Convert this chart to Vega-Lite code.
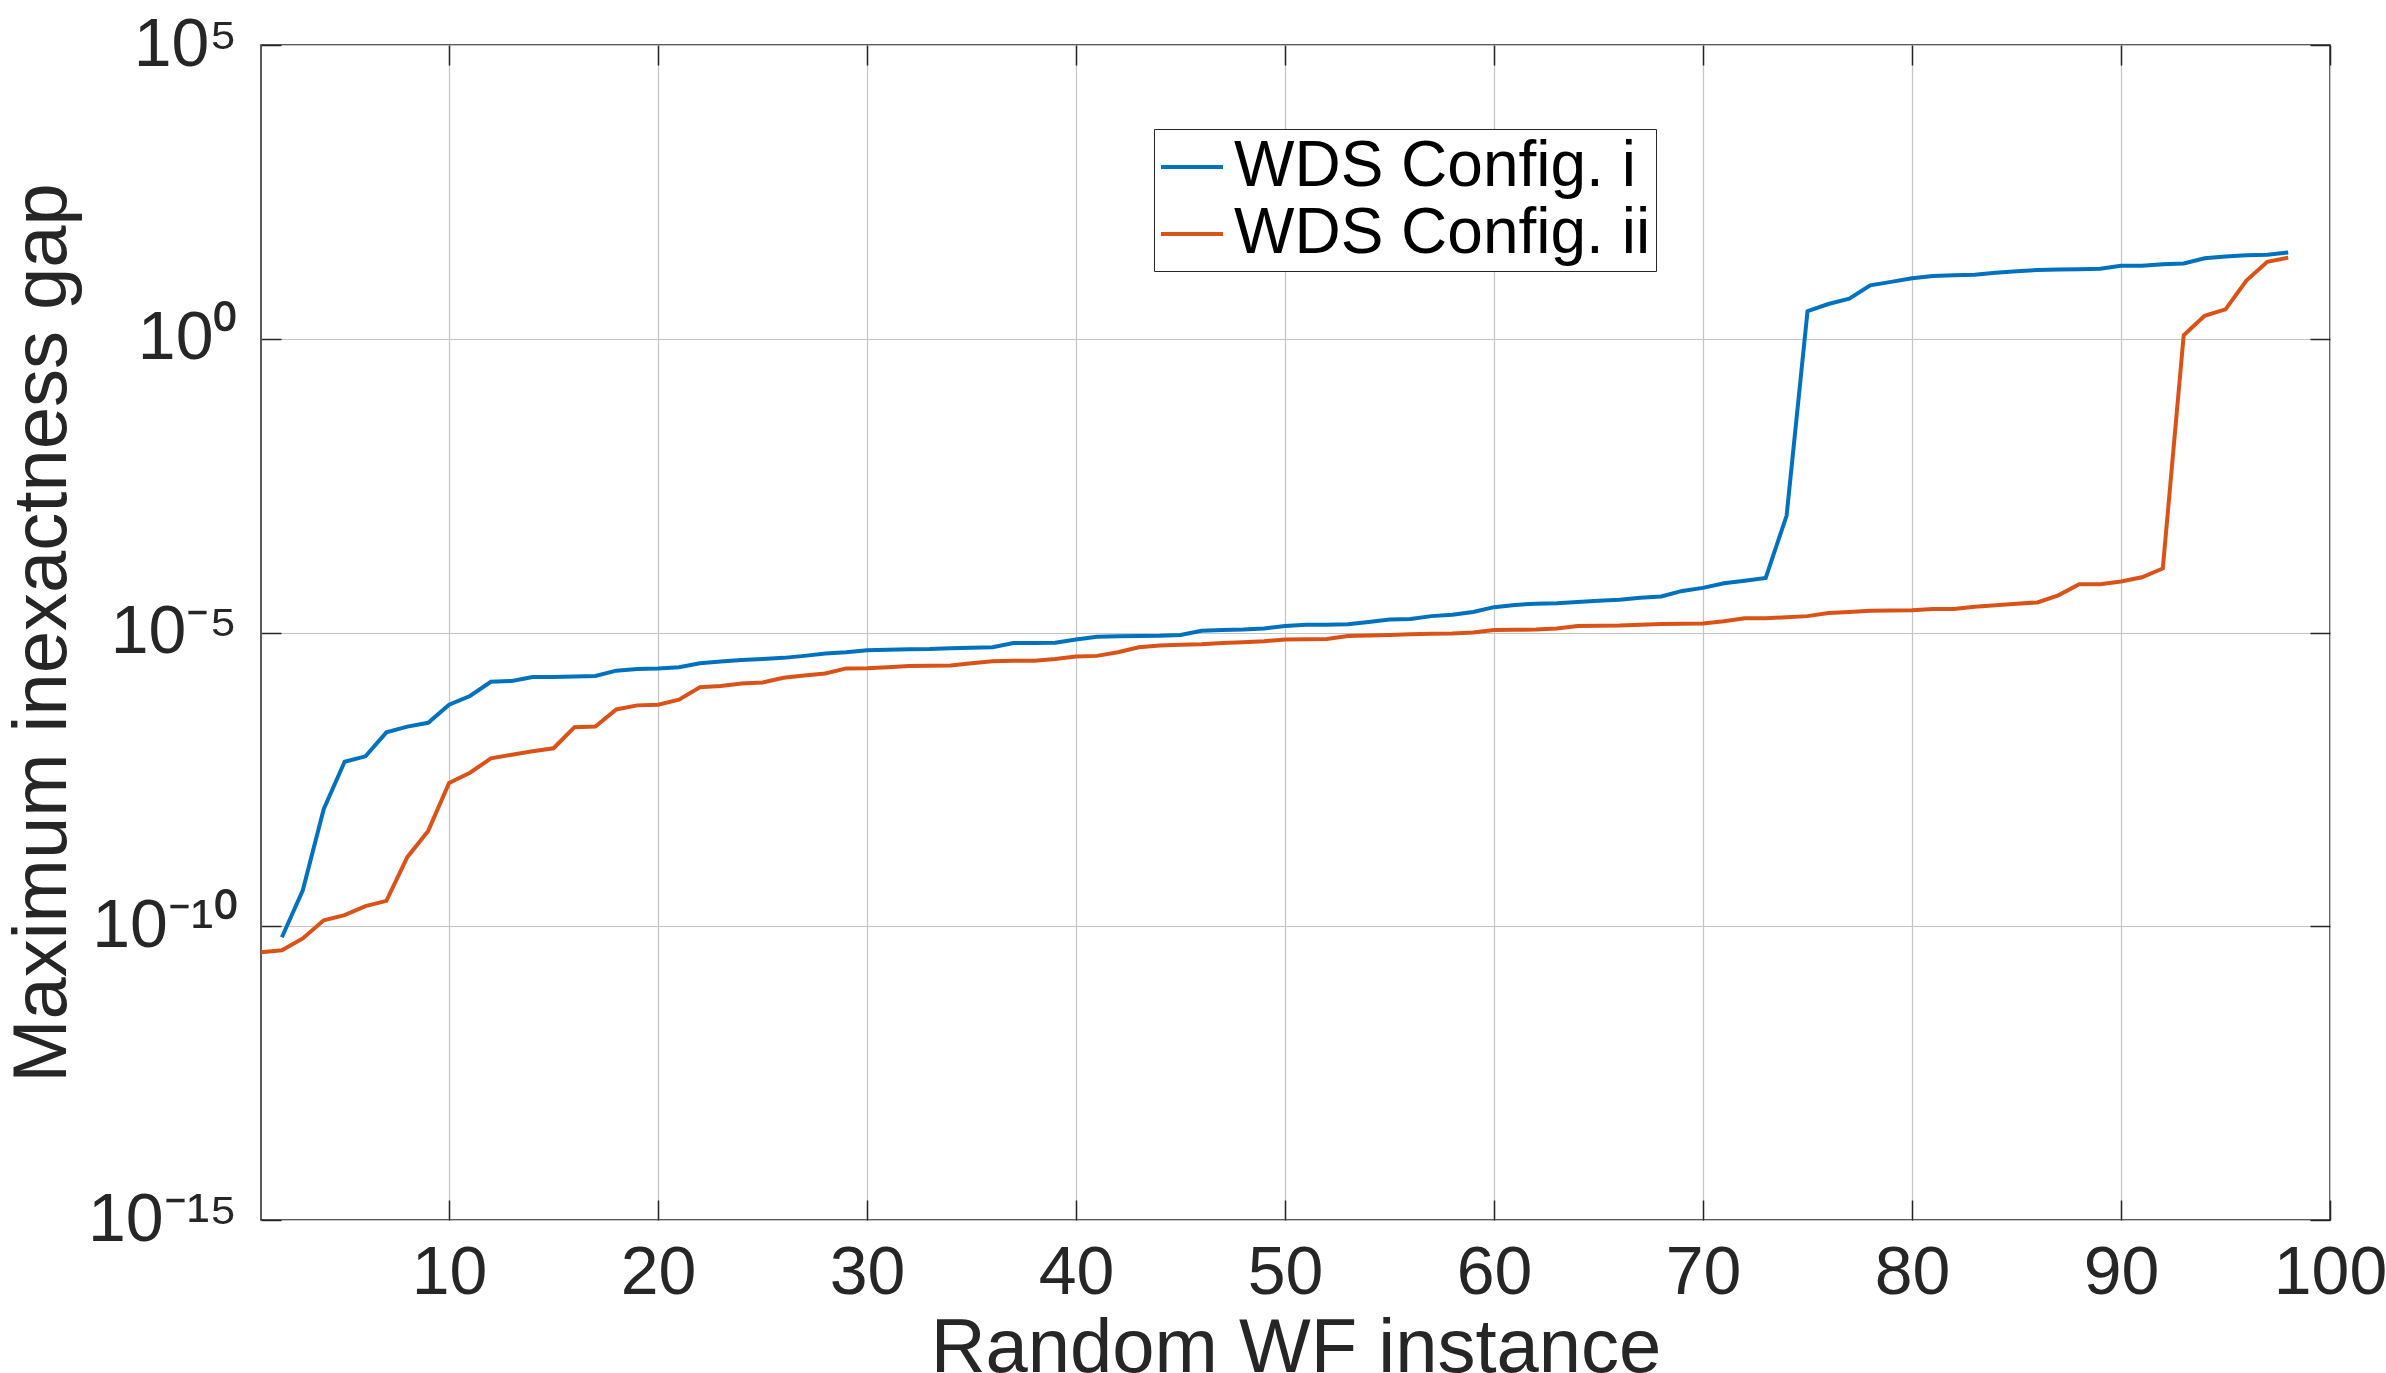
{
  "$schema": "https://vega.github.io/schema/vega-lite/v6.json",
  "width": 2069,
  "height": 1175,
  "autosize": {"type": "none"},
  "padding": {"left": 261, "top": 45, "right": 56, "bottom": 153},
  "background": "white",
  "config": {
    "view": {"stroke": "#262626", "strokeWidth": 1.5},
    "axis": {
      "domain": false,
      "tickColor": "#262626",
      "tickWidth": 1.5,
      "tickSize": -20,
      "gridColor": "#c4c4c4",
      "gridWidth": 1.2,
      "labelFont": "Liberation Sans",
      "labelColor": "#262626",
      "titleFont": "Liberation Sans",
      "titleColor": "#262626",
      "titleFontWeight": "normal",
      "titleFontSize": 76,
      "labelFlush": false,
      "labelOverlap": false,
      "labelBound": false
    }
  },
  "data": {
    "values": [
      {"instance": 2, "config": "WDS Config. i", "gap": 6.5e-11},
      {"instance": 3, "config": "WDS Config. i", "gap": 4.1e-10},
      {"instance": 4, "config": "WDS Config. i", "gap": 9.8e-9},
      {"instance": 5, "config": "WDS Config. i", "gap": 6.3e-8},
      {"instance": 6, "config": "WDS Config. i", "gap": 7.8e-8},
      {"instance": 7, "config": "WDS Config. i", "gap": 2.0e-7},
      {"instance": 8, "config": "WDS Config. i", "gap": 2.5e-7},
      {"instance": 9, "config": "WDS Config. i", "gap": 2.9e-7},
      {"instance": 10, "config": "WDS Config. i", "gap": 5.9e-7},
      {"instance": 11, "config": "WDS Config. i", "gap": 8.3e-7},
      {"instance": 12, "config": "WDS Config. i", "gap": 1.45e-6},
      {"instance": 13, "config": "WDS Config. i", "gap": 1.5e-6},
      {"instance": 14, "config": "WDS Config. i", "gap": 1.74e-6},
      {"instance": 15, "config": "WDS Config. i", "gap": 1.75e-6},
      {"instance": 16, "config": "WDS Config. i", "gap": 1.78e-6},
      {"instance": 17, "config": "WDS Config. i", "gap": 1.82e-6},
      {"instance": 18, "config": "WDS Config. i", "gap": 2.24e-6},
      {"instance": 19, "config": "WDS Config. i", "gap": 2.4e-6},
      {"instance": 20, "config": "WDS Config. i", "gap": 2.45e-6},
      {"instance": 21, "config": "WDS Config. i", "gap": 2.57e-6},
      {"instance": 22, "config": "WDS Config. i", "gap": 3.0e-6},
      {"instance": 23, "config": "WDS Config. i", "gap": 3.2e-6},
      {"instance": 24, "config": "WDS Config. i", "gap": 3.4e-6},
      {"instance": 25, "config": "WDS Config. i", "gap": 3.55e-6},
      {"instance": 26, "config": "WDS Config. i", "gap": 3.7e-6},
      {"instance": 27, "config": "WDS Config. i", "gap": 4.0e-6},
      {"instance": 28, "config": "WDS Config. i", "gap": 4.4e-6},
      {"instance": 29, "config": "WDS Config. i", "gap": 4.6e-6},
      {"instance": 30, "config": "WDS Config. i", "gap": 5.0e-6},
      {"instance": 31, "config": "WDS Config. i", "gap": 5.1e-6},
      {"instance": 32, "config": "WDS Config. i", "gap": 5.2e-6},
      {"instance": 33, "config": "WDS Config. i", "gap": 5.25e-6},
      {"instance": 34, "config": "WDS Config. i", "gap": 5.4e-6},
      {"instance": 35, "config": "WDS Config. i", "gap": 5.5e-6},
      {"instance": 36, "config": "WDS Config. i", "gap": 5.6e-6},
      {"instance": 37, "config": "WDS Config. i", "gap": 6.6e-6},
      {"instance": 38, "config": "WDS Config. i", "gap": 6.65e-6},
      {"instance": 39, "config": "WDS Config. i", "gap": 6.7e-6},
      {"instance": 40, "config": "WDS Config. i", "gap": 7.6e-6},
      {"instance": 41, "config": "WDS Config. i", "gap": 8.5e-6},
      {"instance": 42, "config": "WDS Config. i", "gap": 8.6e-6},
      {"instance": 43, "config": "WDS Config. i", "gap": 8.7e-6},
      {"instance": 44, "config": "WDS Config. i", "gap": 8.8e-6},
      {"instance": 45, "config": "WDS Config. i", "gap": 9.1e-6},
      {"instance": 46, "config": "WDS Config. i", "gap": 1.07e-5},
      {"instance": 47, "config": "WDS Config. i", "gap": 1.1e-5},
      {"instance": 48, "config": "WDS Config. i", "gap": 1.12e-5},
      {"instance": 49, "config": "WDS Config. i", "gap": 1.17e-5},
      {"instance": 50, "config": "WDS Config. i", "gap": 1.29e-5},
      {"instance": 51, "config": "WDS Config. i", "gap": 1.35e-5},
      {"instance": 52, "config": "WDS Config. i", "gap": 1.36e-5},
      {"instance": 53, "config": "WDS Config. i", "gap": 1.38e-5},
      {"instance": 54, "config": "WDS Config. i", "gap": 1.51e-5},
      {"instance": 55, "config": "WDS Config. i", "gap": 1.66e-5},
      {"instance": 56, "config": "WDS Config. i", "gap": 1.7e-5},
      {"instance": 57, "config": "WDS Config. i", "gap": 1.9e-5},
      {"instance": 58, "config": "WDS Config. i", "gap": 2.0e-5},
      {"instance": 59, "config": "WDS Config. i", "gap": 2.24e-5},
      {"instance": 60, "config": "WDS Config. i", "gap": 2.7e-5},
      {"instance": 61, "config": "WDS Config. i", "gap": 2.95e-5},
      {"instance": 62, "config": "WDS Config. i", "gap": 3.1e-5},
      {"instance": 63, "config": "WDS Config. i", "gap": 3.16e-5},
      {"instance": 64, "config": "WDS Config. i", "gap": 3.3e-5},
      {"instance": 65, "config": "WDS Config. i", "gap": 3.47e-5},
      {"instance": 66, "config": "WDS Config. i", "gap": 3.6e-5},
      {"instance": 67, "config": "WDS Config. i", "gap": 3.9e-5},
      {"instance": 68, "config": "WDS Config. i", "gap": 4.1e-5},
      {"instance": 69, "config": "WDS Config. i", "gap": 5.1e-5},
      {"instance": 70, "config": "WDS Config. i", "gap": 5.75e-5},
      {"instance": 71, "config": "WDS Config. i", "gap": 6.9e-5},
      {"instance": 72, "config": "WDS Config. i", "gap": 7.6e-5},
      {"instance": 73, "config": "WDS Config. i", "gap": 8.5e-5},
      {"instance": 74, "config": "WDS Config. i", "gap": 9.8e-4},
      {"instance": 75, "config": "WDS Config. i", "gap": 2.95},
      {"instance": 76, "config": "WDS Config. i", "gap": 3.9},
      {"instance": 77, "config": "WDS Config. i", "gap": 4.8},
      {"instance": 78, "config": "WDS Config. i", "gap": 8.1},
      {"instance": 79, "config": "WDS Config. i", "gap": 9.3},
      {"instance": 80, "config": "WDS Config. i", "gap": 10.7},
      {"instance": 81, "config": "WDS Config. i", "gap": 11.7},
      {"instance": 82, "config": "WDS Config. i", "gap": 12.0},
      {"instance": 83, "config": "WDS Config. i", "gap": 12.3},
      {"instance": 84, "config": "WDS Config. i", "gap": 13.3},
      {"instance": 85, "config": "WDS Config. i", "gap": 14.1},
      {"instance": 86, "config": "WDS Config. i", "gap": 14.8},
      {"instance": 87, "config": "WDS Config. i", "gap": 15.1},
      {"instance": 88, "config": "WDS Config. i", "gap": 15.2},
      {"instance": 89, "config": "WDS Config. i", "gap": 15.5},
      {"instance": 90, "config": "WDS Config. i", "gap": 17.4},
      {"instance": 91, "config": "WDS Config. i", "gap": 17.5},
      {"instance": 92, "config": "WDS Config. i", "gap": 18.6},
      {"instance": 93, "config": "WDS Config. i", "gap": 19.1},
      {"instance": 94, "config": "WDS Config. i", "gap": 23.4},
      {"instance": 95, "config": "WDS Config. i", "gap": 25.1},
      {"instance": 96, "config": "WDS Config. i", "gap": 26.3},
      {"instance": 97, "config": "WDS Config. i", "gap": 26.9},
      {"instance": 98, "config": "WDS Config. i", "gap": 29.5},
      {"instance": 1, "config": "WDS Config. ii", "gap": 3.6e-11},
      {"instance": 2, "config": "WDS Config. ii", "gap": 3.9e-11},
      {"instance": 3, "config": "WDS Config. ii", "gap": 6.2e-11},
      {"instance": 4, "config": "WDS Config. ii", "gap": 1.26e-10},
      {"instance": 5, "config": "WDS Config. ii", "gap": 1.55e-10},
      {"instance": 6, "config": "WDS Config. ii", "gap": 2.2e-10},
      {"instance": 7, "config": "WDS Config. ii", "gap": 2.7e-10},
      {"instance": 8, "config": "WDS Config. ii", "gap": 1.5e-9},
      {"instance": 9, "config": "WDS Config. ii", "gap": 4.2e-9},
      {"instance": 10, "config": "WDS Config. ii", "gap": 2.75e-8},
      {"instance": 11, "config": "WDS Config. ii", "gap": 4.1e-8},
      {"instance": 12, "config": "WDS Config. ii", "gap": 7.2e-8},
      {"instance": 13, "config": "WDS Config. ii", "gap": 8.3e-8},
      {"instance": 14, "config": "WDS Config. ii", "gap": 9.5e-8},
      {"instance": 15, "config": "WDS Config. ii", "gap": 1.07e-7},
      {"instance": 16, "config": "WDS Config. ii", "gap": 2.45e-7},
      {"instance": 17, "config": "WDS Config. ii", "gap": 2.5e-7},
      {"instance": 18, "config": "WDS Config. ii", "gap": 4.9e-7},
      {"instance": 19, "config": "WDS Config. ii", "gap": 5.75e-7},
      {"instance": 20, "config": "WDS Config. ii", "gap": 5.9e-7},
      {"instance": 21, "config": "WDS Config. ii", "gap": 7.2e-7},
      {"instance": 22, "config": "WDS Config. ii", "gap": 1.17e-6},
      {"instance": 23, "config": "WDS Config. ii", "gap": 1.23e-6},
      {"instance": 24, "config": "WDS Config. ii", "gap": 1.35e-6},
      {"instance": 25, "config": "WDS Config. ii", "gap": 1.41e-6},
      {"instance": 26, "config": "WDS Config. ii", "gap": 1.7e-6},
      {"instance": 27, "config": "WDS Config. ii", "gap": 1.86e-6},
      {"instance": 28, "config": "WDS Config. ii", "gap": 2.0e-6},
      {"instance": 29, "config": "WDS Config. ii", "gap": 2.45e-6},
      {"instance": 30, "config": "WDS Config. ii", "gap": 2.47e-6},
      {"instance": 31, "config": "WDS Config. ii", "gap": 2.57e-6},
      {"instance": 32, "config": "WDS Config. ii", "gap": 2.7e-6},
      {"instance": 33, "config": "WDS Config. ii", "gap": 2.72e-6},
      {"instance": 34, "config": "WDS Config. ii", "gap": 2.75e-6},
      {"instance": 35, "config": "WDS Config. ii", "gap": 3.0e-6},
      {"instance": 36, "config": "WDS Config. ii", "gap": 3.24e-6},
      {"instance": 37, "config": "WDS Config. ii", "gap": 3.3e-6},
      {"instance": 38, "config": "WDS Config. ii", "gap": 3.32e-6},
      {"instance": 39, "config": "WDS Config. ii", "gap": 3.55e-6},
      {"instance": 40, "config": "WDS Config. ii", "gap": 3.9e-6},
      {"instance": 41, "config": "WDS Config. ii", "gap": 4.0e-6},
      {"instance": 42, "config": "WDS Config. ii", "gap": 4.6e-6},
      {"instance": 43, "config": "WDS Config. ii", "gap": 5.6e-6},
      {"instance": 44, "config": "WDS Config. ii", "gap": 6.0e-6},
      {"instance": 45, "config": "WDS Config. ii", "gap": 6.2e-6},
      {"instance": 46, "config": "WDS Config. ii", "gap": 6.3e-6},
      {"instance": 47, "config": "WDS Config. ii", "gap": 6.6e-6},
      {"instance": 48, "config": "WDS Config. ii", "gap": 6.8e-6},
      {"instance": 49, "config": "WDS Config. ii", "gap": 7.1e-6},
      {"instance": 50, "config": "WDS Config. ii", "gap": 7.6e-6},
      {"instance": 51, "config": "WDS Config. ii", "gap": 7.7e-6},
      {"instance": 52, "config": "WDS Config. ii", "gap": 7.75e-6},
      {"instance": 53, "config": "WDS Config. ii", "gap": 8.7e-6},
      {"instance": 54, "config": "WDS Config. ii", "gap": 8.9e-6},
      {"instance": 55, "config": "WDS Config. ii", "gap": 9.1e-6},
      {"instance": 56, "config": "WDS Config. ii", "gap": 9.3e-6},
      {"instance": 57, "config": "WDS Config. ii", "gap": 9.5e-6},
      {"instance": 58, "config": "WDS Config. ii", "gap": 9.6e-6},
      {"instance": 59, "config": "WDS Config. ii", "gap": 1.0e-5},
      {"instance": 60, "config": "WDS Config. ii", "gap": 1.1e-5},
      {"instance": 61, "config": "WDS Config. ii", "gap": 1.11e-5},
      {"instance": 62, "config": "WDS Config. ii", "gap": 1.12e-5},
      {"instance": 63, "config": "WDS Config. ii", "gap": 1.17e-5},
      {"instance": 64, "config": "WDS Config. ii", "gap": 1.29e-5},
      {"instance": 65, "config": "WDS Config. ii", "gap": 1.3e-5},
      {"instance": 66, "config": "WDS Config. ii", "gap": 1.31e-5},
      {"instance": 67, "config": "WDS Config. ii", "gap": 1.35e-5},
      {"instance": 68, "config": "WDS Config. ii", "gap": 1.4e-5},
      {"instance": 69, "config": "WDS Config. ii", "gap": 1.41e-5},
      {"instance": 70, "config": "WDS Config. ii", "gap": 1.42e-5},
      {"instance": 71, "config": "WDS Config. ii", "gap": 1.55e-5},
      {"instance": 72, "config": "WDS Config. ii", "gap": 1.74e-5},
      {"instance": 73, "config": "WDS Config. ii", "gap": 1.75e-5},
      {"instance": 74, "config": "WDS Config. ii", "gap": 1.82e-5},
      {"instance": 75, "config": "WDS Config. ii", "gap": 1.9e-5},
      {"instance": 76, "config": "WDS Config. ii", "gap": 2.14e-5},
      {"instance": 77, "config": "WDS Config. ii", "gap": 2.24e-5},
      {"instance": 78, "config": "WDS Config. ii", "gap": 2.34e-5},
      {"instance": 79, "config": "WDS Config. ii", "gap": 2.37e-5},
      {"instance": 80, "config": "WDS Config. ii", "gap": 2.4e-5},
      {"instance": 81, "config": "WDS Config. ii", "gap": 2.5e-5},
      {"instance": 82, "config": "WDS Config. ii", "gap": 2.52e-5},
      {"instance": 83, "config": "WDS Config. ii", "gap": 2.75e-5},
      {"instance": 84, "config": "WDS Config. ii", "gap": 2.9e-5},
      {"instance": 85, "config": "WDS Config. ii", "gap": 3.1e-5},
      {"instance": 86, "config": "WDS Config. ii", "gap": 3.25e-5},
      {"instance": 87, "config": "WDS Config. ii", "gap": 4.3e-5},
      {"instance": 88, "config": "WDS Config. ii", "gap": 6.6e-5},
      {"instance": 89, "config": "WDS Config. ii", "gap": 6.65e-5},
      {"instance": 90, "config": "WDS Config. ii", "gap": 7.4e-5},
      {"instance": 91, "config": "WDS Config. ii", "gap": 8.7e-5},
      {"instance": 92, "config": "WDS Config. ii", "gap": 1.23e-4},
      {"instance": 93, "config": "WDS Config. ii", "gap": 1.15},
      {"instance": 94, "config": "WDS Config. ii", "gap": 2.45},
      {"instance": 95, "config": "WDS Config. ii", "gap": 3.16},
      {"instance": 96, "config": "WDS Config. ii", "gap": 9.8},
      {"instance": 97, "config": "WDS Config. ii", "gap": 20.4},
      {"instance": 98, "config": "WDS Config. ii", "gap": 24.0}
    ]
  },
  "layer": [
    {
      "mark": {"type": "line", "strokeWidth": 4, "clip": true},
      "encoding": {
        "x": {
          "field": "instance",
          "type": "quantitative",
          "scale": {"domain": [1, 100], "nice": false, "zero": false},
          "axis": {
            "orient": "bottom",
            "values": [10, 20, 30, 40, 50, 60, 70, 80, 90, 100],
            "grid": true,
            "labelFontSize": 68,
            "labelPadding": 39,
            "title": "Random WF instance",
            "titleBaseline": "alphabetic",
            "titleY": 151
          }
        },
        "y": {
          "field": "gap",
          "type": "quantitative",
          "scale": {"type": "log", "domain": [1e-15, 100000], "nice": false},
          "axis": {
            "orient": "left",
            "values": [1e-15, 1e-10, 1e-5, 1, 100000],
            "grid": true,
            "labelFontSize": 68,
            "labelPadding": 44,
            "labelExpr": "round(log(datum.value) / LN10) == 5 ? '10⁵' : round(log(datum.value) / LN10) == 0 ? '10⁰' : round(log(datum.value) / LN10) == -5 ? '10⁻⁵' : round(log(datum.value) / LN10) == -10 ? '10⁻¹⁰' : '10⁻¹⁵'",
            "title": "Maximum inexactness gap",
            "titleAngle": 270,
            "titleBaseline": "alphabetic",
            "titleAlign": "center",
            "titleX": -196,
            "titleY": 587.5
          }
        },
        "color": {
          "field": "config",
          "type": "nominal",
          "scale": {"domain": ["WDS Config. i", "WDS Config. ii"], "range": ["#0072BD", "#D95319"]},
          "legend": {
            "title": null,
            "orient": "none",
            "legendX": 893,
            "legendY": 84,
            "strokeColor": "#262626",
            "fillColor": "white",
            "padding": 5,
            "symbolType": "stroke",
            "symbolSize": 3844,
            "symbolStrokeWidth": 4,
            "labelFont": "Liberation Sans",
            "labelFontSize": 64,
            "labelColor": "black",
            "labelOffset": 9,
            "labelLimit": 0,
            "rowPadding": 2
          }
        }
      }
    },
    {
      "mark": {"type": "line", "opacity": 0},
      "encoding": {
        "x": {
          "field": "instance",
          "type": "quantitative",
          "axis": {
            "orient": "top",
            "values": [10, 20, 30, 40, 50, 60, 70, 80, 90, 100],
            "labels": false,
            "grid": false,
            "title": null
          }
        },
        "y": {
          "field": "gap",
          "type": "quantitative",
          "axis": {
            "orient": "right",
            "values": [1e-15, 1e-10, 1e-5, 1, 100000],
            "labels": false,
            "grid": false,
            "title": null
          }
        },
        "detail": {"field": "config"}
      }
    }
  ],
  "resolve": {"axis": {"x": "independent", "y": "independent"}}
}
